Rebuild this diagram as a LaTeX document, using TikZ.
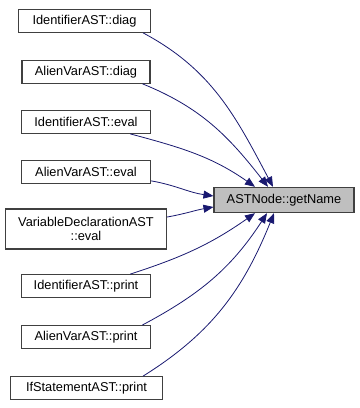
\documentclass[tikz,border=0pt]{standalone}
\usepackage{fontspec}
\setmainfont{Liberation Sans}
\usepackage{tikz}
\usetikzlibrary{arrows.meta,calc}

\tikzset{
  fn/.style={draw=black!75,thick,fill=white,inner sep=0pt,minimum height=17pt,
    font=\fontsize{9.6}{11}\selectfont,align=center},
  callee/.style={fn,fill=black!25},
  call/.style={draw={rgb,255:red,25;green,25;blue,112},semithick,
    -{Triangle[length=7.5pt,width=6pt]}}
}

\begin{document}
\begin{tikzpicture}[x=0.75pt,y=0.75pt]
\useasboundingbox (0,0) rectangle (360,408);
% callers on the left
\node[fn,minimum width=99pt] (idDiag) at (84.5,387) {IdentifierAST::diag};
\node[fn,minimum width=96pt] (avDiag) at (86,336) {AlienVarAST::diag};
\node[fn,minimum width=97pt] (idEval) at (86,286) {IdentifierAST::eval};
\node[fn,minimum width=97pt] (avEval) at (86,236) {AlienVarAST::eval};
\node[fn,minimum width=121pt,minimum height=30pt] (vdEval) at (86,179) {VariableDeclarationAST\\::eval};
\node[fn,minimum width=97pt] (idPrint) at (86,122) {IdentifierAST::print};
\node[fn,minimum width=97pt] (avPrint) at (86,71) {AlienVarAST::print};
\node[fn,minimum width=114pt] (ifPrint) at (86.5,20) {IfStatementAST::print};
% the called function
\node[callee,minimum width=105pt,minimum height=19pt] (getName) at (284,208) {ASTNode::getName};

\draw[call] ($(idDiag.south east)+(-8,0)$) to[out=-28,in=118] ($(getName.north)+(-11,0)$);
\draw[call] ($(avDiag.south east)+(-8,0)$) to[out=-22,in=128] ($(getName.north)+(-16,0)$);
\draw[call] ($(idEval.south east)+(-21,0)$) to[out=-15,in=145] ($(getName.north)+(-29,0)$);
\draw[call] ($(avEval.south east)+(0,3)$) to[out=-10,in=172] ($(getName.west)+(0,4)$);
\draw[call] ($(vdEval.east)+(0,12)$) to[out=10,in=-170] ($(getName.west)+(0,-7)$);
\draw[call] ($(idPrint.north east)+(-21,0)$) to[out=18,in=-145] ($(getName.south)+(-29,0)$);
\draw[call] ($(avPrint.north east)+(-9,0)$) to[out=28,in=-123] ($(getName.south)+(-17,0)$);
\draw[call] ($(ifPrint.north east)+(-20,0)$) to[out=32,in=-112] ($(getName.south)+(-10,0)$);
\end{tikzpicture}
\end{document}
